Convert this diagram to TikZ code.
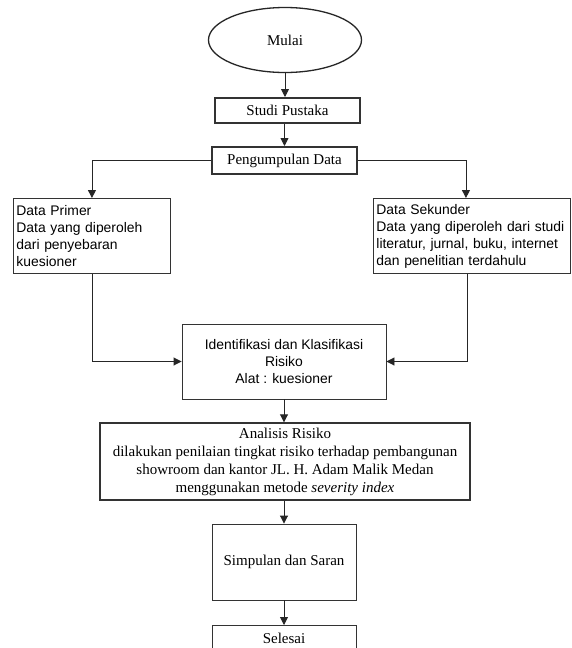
\documentclass[tikz,border=0pt]{standalone}
\usepackage{fontspec}
\setmainfont{Liberation Serif}
\newfontfamily\arialf{Liberation Sans}
\usetikzlibrary{arrows.meta,shapes.geometric}
\begin{document}
\begin{tikzpicture}[x=1pt,y=-1pt,
  box/.style={draw=black!80, line width=0.9pt, rectangle, inner sep=3pt, align=center, font=\fontsize{15}{18}\selectfont},
  thickbox/.style={box, line width=2pt},
  sbox/.style={box, font=\arialf\fontsize{13.9}{17}\selectfont},
  arr/.style={-{Triangle[length=8pt,width=8pt]}, line width=0.9pt, draw=black!85}
]
\useasboundingbox (0,0) rectangle (572,648);
\clip (0,0) rectangle (572,648);
\fill[white] (0,0) rectangle (572,648);
\node[ellipse, draw=black!85, line width=1.3pt, minimum width=153pt, minimum height=65pt, font=\fontsize{15}{18}\selectfont] (mulai) at (285,40) {Mulai};
\node[thickbox, minimum width=145pt, minimum height=25pt] (studi) at (287.5,110.5) {Studi Pustaka};
\node[thickbox, minimum width=145pt, minimum height=27pt] (kumpul) at (284.5,160.5) {Pengumpulan Data};
\node[sbox, align=left, text width=151pt, minimum height=75pt, anchor=north west] (primer) at (13,198) {Data Primer\\Data yang diperoleh\\dari penyebaran\\kuesioner};
\node[sbox, align=left, text width=191pt, minimum height=75pt, anchor=north west] (sekunder) at (373,198) {Data Sekunder\\Data yang diperoleh dari studi\\literatur, jurnal, buku, internet\\dan penelitian terdahulu};
\node[sbox, minimum width=204pt, minimum height=75pt] (ident) at (284,361.5) {Identifikasi dan Klasifikasi\\Risiko\\Alat : kuesioner};
\node[box, line width=1.4pt, minimum width=370pt, minimum height=77pt] (analisis) at (285,461.5) {Analisis Risiko\\dilakukan penilaian tingkat risiko terhadap pembangunan\\showroom dan kantor JL. H. Adam Malik Medan\\menggunakan metode \textit{severity index}};
\node[box, minimum width=144pt, minimum height=76pt] (simpulan) at (284,562) {Simpulan dan Saran};
\node[box, minimum width=144pt, minimum height=26pt, anchor=north] (selesai) at (284,625) {Selesai};
\coordinate (pin) at ([xshift=-6pt]sekunder.north);
\coordinate (pout) at ([xshift=-5pt]sekunder.south);
\draw[arr] (mulai.south) -- (mulai.south |- studi.north);
\draw[arr] (studi.south -| kumpul.north) -- (kumpul.north);
\draw[arr] (kumpul.west) -| (primer.north);
\draw[arr] (kumpul.east) -| (pin);
\draw[arr] (primer.south) |- (ident.west);
\draw[arr] (pout) |- (ident.east);
\draw[arr] (ident.south) -- (ident.south |- analisis.north);
\draw[arr] (analisis.south -| simpulan.north) -- (simpulan.north);
\draw[arr] (simpulan.south) -- (selesai.north);
\end{tikzpicture}
\end{document}
